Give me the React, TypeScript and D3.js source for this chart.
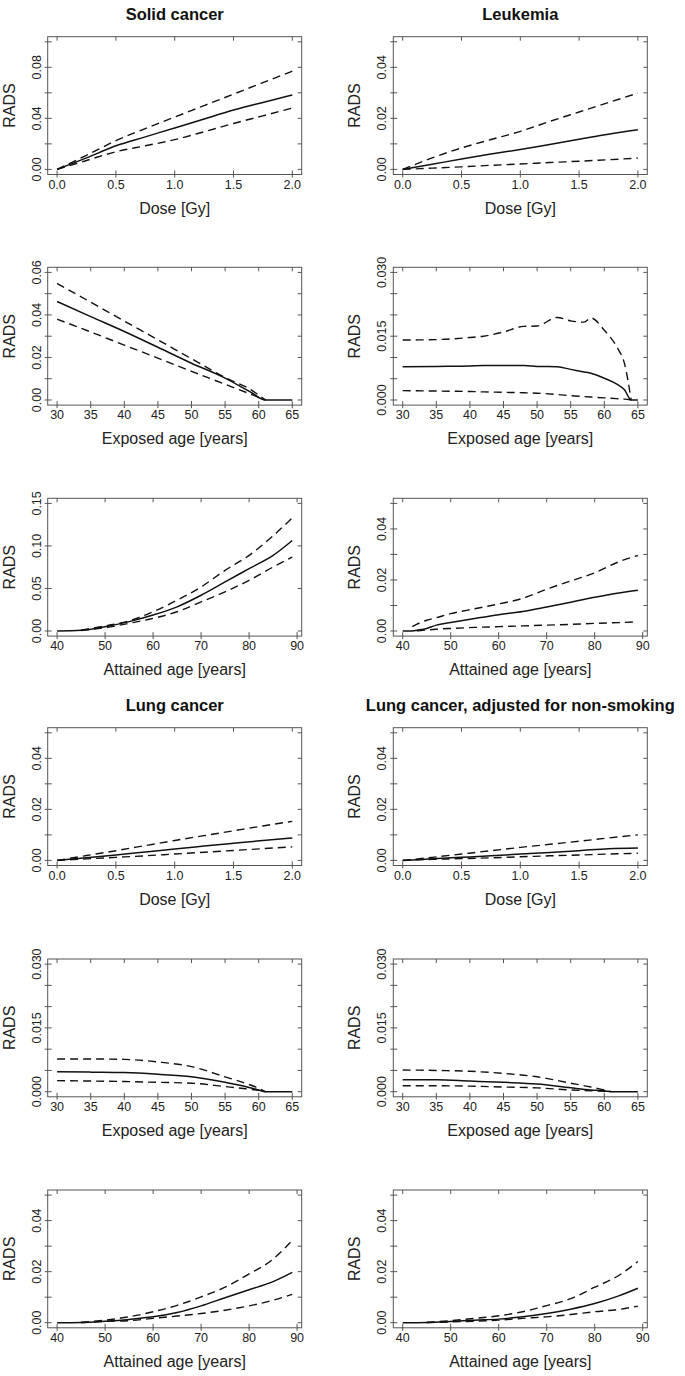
import React from 'react';
import * as d3 from 'd3';

// x grids
const doseX = [0, 0.25, 0.5, 0.75, 1, 1.25, 1.5, 1.75, 2];
const solidExpX = [30, 35, 40, 45, 50, 55, 59, 61, 65];
const leukExpX = [30, 35, 40, 42, 45, 48, 50, 53, 55, 57, 58, 60, 62, 63, 64, 65];
const lungExpX = [30, 35, 40, 45, 50, 55, 58, 60, 61, 65];
const attainedX = [40, 45, 50, 55, 60, 65, 70, 75, 80, 85, 89];
const leukAttX = [40, 42, 43, 45, 47, 50, 55, 60, 65, 70, 75, 80, 85, 89];

// Solid cancer
const solidDoseMid = [0, 0.009, 0.0185, 0.0255, 0.0325, 0.0395, 0.0465, 0.0525, 0.0583];
const solidDoseUp = [0, 0.011, 0.0225, 0.032, 0.041, 0.05, 0.059, 0.068, 0.0769];
const solidDoseLo = [0, 0.007, 0.0138, 0.0185, 0.0233, 0.0295, 0.036, 0.042, 0.0481];
const solidExpMid = [0.0463, 0.0392, 0.0322, 0.0248, 0.0173, 0.0103, 0.0033, 0, 0];
const solidExpUp = [0.0548, 0.046, 0.0371, 0.0283, 0.0194, 0.0106, 0.0045, 0, null];
const solidExpLo = [0.038, 0.032, 0.0258, 0.0197, 0.0135, 0.0074, 0.0025, 0, null];
const solidAttMid = [0, 0.0008, 0.005, 0.011, 0.0187, 0.0284, 0.042, 0.0577, 0.0733, 0.0889, 0.1064];
const solidAttUp = [null, 0.001, 0.006, 0.012, 0.0226, 0.0362, 0.0518, 0.0713, 0.0889, 0.112, 0.1329];
const solidAttLo = [null, 0.0006, 0.0039, 0.009, 0.0148, 0.0226, 0.0343, 0.046, 0.0596, 0.0752, 0.0869];

// Leukemia
const leukDoseMid = [0, 0.002, 0.0041, 0.006, 0.0078, 0.0098, 0.0118, 0.0138, 0.0155];
const leukDoseUp = [0, 0.0045, 0.0084, 0.0117, 0.0149, 0.0188, 0.0225, 0.0262, 0.0299];
const leukDoseLo = [0, 0.0005, 0.001, 0.0016, 0.0021, 0.0027, 0.0032, 0.0038, 0.0044];
const leukExpMid = [0.0078, 0.0079, 0.008, 0.0081, 0.0081, 0.0081, 0.0079, 0.0078, 0.0072, 0.0066, 0.0063, 0.0051, 0.0036, 0.0024, 0, 0];
const leukExpUp = [0.0141, 0.0142, 0.0147, 0.015, 0.016, 0.0173, 0.0174, 0.0194, 0.0186, 0.0183, 0.0193, 0.0164, 0.0121, 0.0086, 0, null];
const leukExpLo = [0.0022, 0.0021, 0.002, 0.0019, 0.0018, 0.0017, 0.0016, 0.0013, 0.001, 0.0008, 0.0007, 0.0005, 0.0003, 0.0002, 0, null];
const leukAttMid = [0, 0, 0.0003, 0.001, 0.0023, 0.0033, 0.0049, 0.0064, 0.0076, 0.0094, 0.0113, 0.0132, 0.0149, 0.016];
const leukAttUp = [null, 0.0017, 0.0027, 0.0042, 0.0052, 0.0068, 0.0087, 0.0106, 0.0128, 0.0164, 0.0196, 0.0228, 0.0271, 0.0296];
const leukAttLo = [null, null, 0, 0.0004, 0.0007, 0.001, 0.0014, 0.0017, 0.002, 0.0023, 0.0026, 0.003, 0.0033, 0.0036];

// Lung cancer
const lungDoseMid = [0, 0.001, 0.0021, 0.0033, 0.0045, 0.0056, 0.0067, 0.0078, 0.0088];
const lungDoseUp = [0, 0.0019, 0.0038, 0.0058, 0.0078, 0.0097, 0.0116, 0.0135, 0.0153];
const lungDoseLo = [0, 0.0006, 0.0012, 0.0018, 0.0025, 0.0032, 0.0039, 0.0046, 0.0053];
const lungExpMid = [0.0047, 0.0046, 0.0045, 0.0041, 0.0035, 0.0022, 0.0012, 0.0004, 0, 0];
const lungExpUp = [0.0077, 0.0077, 0.0076, 0.007, 0.0059, 0.0035, 0.002, 0.0008, 0, null];
const lungExpLo = [0.0026, 0.0025, 0.0024, 0.0022, 0.002, 0.0012, 0.0007, 0.0003, 0, null];
const lungAttMid = [0, 0.0001, 0.0006, 0.0013, 0.0023, 0.004, 0.0066, 0.0098, 0.0129, 0.0161, 0.0197];
const lungAttUp = [null, 0.0001, 0.001, 0.0023, 0.0043, 0.0068, 0.0101, 0.0139, 0.0191, 0.0249, 0.0323];
const lungAttLo = [null, 0.0001, 0.0005, 0.0008, 0.0017, 0.0026, 0.0036, 0.0049, 0.0066, 0.0088, 0.0111];

// Lung cancer, adjusted for non-smoking
const adjDoseMid = [0, 0.0006, 0.0012, 0.0018, 0.0025, 0.0031, 0.0038, 0.0046, 0.0049];
const adjDoseUp = [0, 0.0012, 0.0025, 0.0038, 0.0051, 0.0063, 0.0075, 0.0088, 0.01];
const adjDoseLo = [0, 0.0004, 0.0007, 0.001, 0.0014, 0.0018, 0.0021, 0.0025, 0.0028];
const adjExpMid = [0.0028, 0.0028, 0.0025, 0.0022, 0.0018, 0.0009, 0.0004, 0.0002, 0, 0];
const adjExpUp = [0.0051, 0.005, 0.0048, 0.0043, 0.0035, 0.002, 0.0011, 0.0004, 0, null];
const adjExpLo = [0.0014, 0.0014, 0.0013, 0.0011, 0.0009, 0.0004, 0.0002, 0.0001, 0, null];
const adjAttMid = [0, 0.0001, 0.0005, 0.001, 0.0014, 0.0023, 0.0036, 0.0053, 0.0075, 0.0105, 0.0135];
const adjAttUp = [null, 0.0001, 0.0008, 0.0017, 0.0027, 0.0043, 0.0067, 0.0094, 0.0139, 0.0185, 0.024];
const adjAttLo = [null, 0.0001, 0.0003, 0.0006, 0.001, 0.0017, 0.0023, 0.0032, 0.0043, 0.0052, 0.0065];

// axis ticks
const doseTicks = [0, 0.5, 1, 1.5, 2];
const exposedTicks = [30, 35, 40, 45, 50, 55, 60, 65];
const attainedTicks = [40, 50, 60, 70, 80, 90];

const titles = ['Solid cancer', 'Leukemia', 'Lung cancer', 'Lung cancer, adjusted for non-smoking'];

type Val = number | null;
interface Panel {
  title?: string;
  xs: number[];
  mid: Val[];
  up: Val[];
  lo: Val[];
  xDom: [number, number];
  xTicks: number[];
  xFmt: (v: number) => string;
  xLabel: string;
  yMax: number;
  yStep: number;
  yLabels: number[];
  yFmt: (v: number) => string;
}

const f1 = d3.format('.1f');
const f0 = d3.format('d');
const f2 = d3.format('.2f');
const f3 = d3.format('.3f');

const doseP = (title: string | undefined, mid: Val[], up: Val[], lo: Val[], yMax: number, yStep: number, yLabels: number[]): Panel => ({
  title, xs: doseX, mid, up, lo, xDom: [0, 2], xTicks: doseTicks, xFmt: f1, xLabel: 'Dose [Gy]', yMax, yStep, yLabels, yFmt: f2,
});
const expP = (xs: number[], mid: Val[], up: Val[], lo: Val[], yMax: number, yStep: number, yLabels: number[], yFmt: (v: number) => string): Panel => ({
  xs, mid, up, lo, xDom: [30, 65], xTicks: exposedTicks, xFmt: f0, xLabel: 'Exposed age [years]', yMax, yStep, yLabels, yFmt,
});
const attP = (xs: number[], mid: Val[], up: Val[], lo: Val[], yMax: number, yStep: number, yLabels: number[]): Panel => ({
  xs, mid, up, lo, xDom: [40, 89], xTicks: attainedTicks, xFmt: f0, xLabel: 'Attained age [years]', yMax, yStep, yLabels, yFmt: f2,
});

// rows of [left, right]
const panels: Panel[][] = [
  [doseP(titles[0], solidDoseMid, solidDoseUp, solidDoseLo, 0.1, 0.02, [0, 0.04, 0.08]),
   doseP(titles[1], leukDoseMid, leukDoseUp, leukDoseLo, 0.05, 0.01, [0, 0.02, 0.04])],
  [expP(solidExpX, solidExpMid, solidExpUp, solidExpLo, 0.06, 0.01, [0, 0.02, 0.04, 0.06], f2),
   expP(leukExpX, leukExpMid, leukExpUp, leukExpLo, 0.03, 0.005, [0, 0.015, 0.03], f3)],
  [attP(attainedX, solidAttMid, solidAttUp, solidAttLo, 0.15, 0.05, [0, 0.05, 0.1, 0.15]),
   attP(leukAttX, leukAttMid, leukAttUp, leukAttLo, 0.05, 0.01, [0, 0.02, 0.04])],
  [doseP(titles[2], lungDoseMid, lungDoseUp, lungDoseLo, 0.05, 0.01, [0, 0.02, 0.04]),
   doseP(titles[3], adjDoseMid, adjDoseUp, adjDoseLo, 0.05, 0.01, [0, 0.02, 0.04])],
  [expP(lungExpX, lungExpMid, lungExpUp, lungExpLo, 0.03, 0.005, [0, 0.015, 0.03], f3),
   expP(lungExpX, adjExpMid, adjExpUp, adjExpLo, 0.03, 0.005, [0, 0.015, 0.03], f3)],
  [attP(attainedX, lungAttMid, lungAttUp, lungAttLo, 0.05, 0.01, [0, 0.02, 0.04]),
   attP(attainedX, adjAttMid, adjAttUp, adjAttLo, 0.05, 0.01, [0, 0.02, 0.04])],
];

const colLeft = [47.7, 393.3];
const rowTop = [36.7, 267.3, 498.3, 727.7, 959, 1190];
const boxW = 254;
const boxH = 137.8;
const FONT = '"Liberation Sans", Arial, sans-serif';
const pad = (a: number, b: number): [number, number] => [a - 0.04 * (b - a), b + 0.04 * (b - a)];

const Plot: React.FC<{ p: Panel; left: number; top: number }> = ({ p, left, top }) => {
  const x = d3.scaleLinear().domain(pad(p.xDom[0], p.xDom[1])).range([left, left + boxW]);
  const y = d3.scaleLinear().domain(pad(0, p.yMax)).range([top + boxH, top]);
  const line = d3.line<[number, Val]>()
    .defined(d => d[1] != null)
    .x(d => x(d[0]))
    .y(d => y(d[1] as number))
    .curve(d3.curveMonotoneX);
  const pts = (vals: Val[]) => p.xs.map((v, i) => [v, vals[i]] as [number, Val]);
  const yTicks = d3.range(0, p.yMax + p.yStep / 2, p.yStep);
  const bottom = top + boxH;
  const right = left + boxW;

  return (
    <g>
      {p.title && (
        <text x={left + boxW / 2} y={top - 17} textAnchor="middle" fontWeight="bold" fontSize={16.5} fill="#111">
          {p.title}
        </text>
      )}
      <rect x={left} y={top} width={boxW} height={boxH} fill="none" stroke="#555" strokeWidth={1} />
      {p.xTicks.map(t => (
        <g key={'x' + t}>
          <line x1={x(t)} x2={x(t)} y1={bottom - 4} y2={bottom + 3} stroke="#555" />
          <line x1={x(t)} x2={x(t)} y1={top} y2={top + 4} stroke="#555" />
          <text x={x(t)} y={bottom + 14} textAnchor="middle" fontSize={12.5} fill="#222">{p.xFmt(t)}</text>
        </g>
      ))}
      {yTicks.map(t => (
        <g key={'y' + t}>
          <line x1={left - 3} x2={left + 4} y1={y(t)} y2={y(t)} stroke="#555" />
          <line x1={right - 4} x2={right} y1={y(t)} y2={y(t)} stroke="#555" />
        </g>
      ))}
      {p.yLabels.map(t => (
        <text key={'yl' + t} transform={`translate(${left - 7},${y(t)}) rotate(-90)`} textAnchor="middle" fontSize={12.5} fill="#222">
          {p.yFmt(t)}
        </text>
      ))}
      <text x={left + boxW / 2} y={bottom + 39} textAnchor="middle" fontSize={16} fill="#222">{p.xLabel}</text>
      <text transform={`translate(${left - 33},${top + boxH / 2}) rotate(-90)`} textAnchor="middle" fontSize={16} fill="#222">RADS</text>
      <path d={line(pts(p.up)) || ''} fill="none" stroke="#111" strokeWidth={1.4} strokeDasharray="8,5" />
      <path d={line(pts(p.lo)) || ''} fill="none" stroke="#111" strokeWidth={1.4} strokeDasharray="8,5" />
      <path d={line(pts(p.mid)) || ''} fill="none" stroke="#111" strokeWidth={1.5} />
    </g>
  );
};

export default function App() {
  return (
    <div style={{ position: 'absolute', left: 0, top: 0 }}>
      <svg width={685} height={1376} style={{ display: 'block', background: '#fff' }} fontFamily={FONT}>
        {panels.map((row, r) =>
          row.map((p, c) => <Plot key={r + '-' + c} p={p} left={colLeft[c]} top={rowTop[r]} />)
        )}
      </svg>
    </div>
  );
}
